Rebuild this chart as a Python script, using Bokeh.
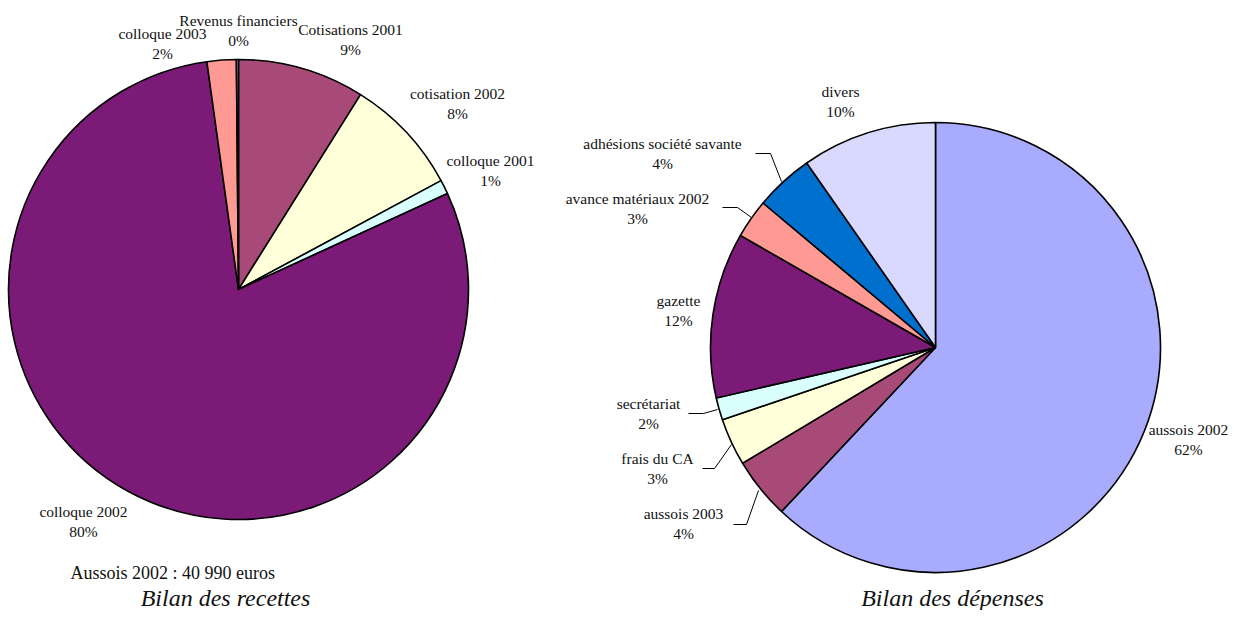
import math
from bokeh.plotting import figure
from bokeh.models import Range1d, ColumnDataSource
from bokeh.core.properties import value
from bokeh.embed import file_html
from bokeh.resources import INLINE

# ---------------- data ----------------
recettes_labels = ["Cotisations 2001", "cotisation 2002", "colloque 2001",
                   "colloque 2002", "colloque 2003", "Revenus financiers"]
recettes_values = [3650, 3380, 410, 32650, 840, 60]
recettes_colors = ["#A84A78", "#FFFFD9", "#D9FFFF", "#7B1B77", "#FF9994", "#A9ABFF"]

depenses_labels = ["aussois 2002", "aussois 2003", "frais du CA", "secrétariat",
                   "gazette", "avance matériaux 2002", "adhésions société savante", "divers"]
depenses_values = [62.0, 4.4, 3.4, 1.6, 11.9, 2.8, 4.2, 9.7]
depenses_colors = ["#A9ABFF", "#A84A78", "#FFFFD9", "#D9FFFF", "#7B1B77", "#FF9994",
                   "#0070CF", "#D9D9FF"]

total_note = "Aussois 2002 : 40 990 euros"
title_left = "Bilan des recettes"
title_right = "Bilan des dépenses"

# ---------------- layout (picture pixel coordinates) ----------------
W, H = 1230, 610
def X(v):
    return v
def Y(v):
    return H - v

left_center = (238, 289)
left_radius = 230
right_center = (935, 347)
right_radius = 225

recettes_label_pos = [(350, 29), (457, 93), (490, 160), (83, 511), (162, 33), (238, 20)]
depenses_label_pos = [(1188, 429), (683, 513), (657, 458), (648, 403),
                      (678, 300), (637, 198), (662, 143), (840, 91)]
leaders = [
    ([733, 746, 758], [524, 524, 490]),
    ([702, 714, 731], [468, 468, 444]),
    ([688, 703, 717], [413, 413, 409]),
    ([722, 737, 751], [207, 207, 217]),
    ([755, 770, 781], [153, 153, 181]),
]

FONT = value("Liberation Serif")

p = figure(width=W, height=H, output_backend="svg", toolbar_location=None,
           x_range=Range1d(0, W), y_range=Range1d(0, H), min_border=0)
p.axis.visible = False
p.grid.visible = False
p.outline_line_color = None
p.background_fill_color = "white"
p.border_fill_color = "white"


def draw_pie(vals, labels, colors, center, radius, label_pos):
    tot = float(sum(vals))
    cum = 0.0
    starts, ends, pcts = [], [], []
    for v in vals:
        a0 = cum / tot
        cum += v
        a1 = cum / tot
        starts.append(math.pi / 2 - a1 * 2 * math.pi)
        ends.append(math.pi / 2 - a0 * 2 * math.pi)
        pcts.append("%d%%" % round(100 * v / tot))
    src = ColumnDataSource(dict(start=starts, end=ends, color=colors))
    p.wedge(x=X(center[0]), y=Y(center[1]), radius=radius, start_angle="start",
            end_angle="end", fill_color="color", line_color="black",
            line_width=1.6, source=src)
    lx = [X(q[0]) for q in label_pos]
    ly = [Y(q[1]) for q in label_pos]
    ly2 = [Y(q[1] + 20) for q in label_pos]
    p.text(x=lx, y=ly, text=labels, text_font=FONT, text_font_size="15.5px",
           text_align="center", text_baseline="middle", text_color="#111111")
    p.text(x=lx, y=ly2, text=pcts, text_font=FONT, text_font_size="15.5px",
           text_align="center", text_baseline="middle", text_color="#111111")


draw_pie(recettes_values, recettes_labels, recettes_colors, left_center, left_radius,
         recettes_label_pos)
draw_pie(depenses_values, depenses_labels, depenses_colors, right_center, right_radius,
         depenses_label_pos)

p.multi_line(xs=[[X(v) for v in l[0]] for l in leaders],
             ys=[[Y(v) for v in l[1]] for l in leaders],
             line_color="black", line_width=1)

p.text(x=[X(70)], y=[Y(572)], text=[total_note], text_font=FONT, text_font_size="18px",
       text_align="left", text_baseline="middle", text_color="#111111")
p.text(x=[X(225), X(952)], y=[Y(597), Y(597)], text=[title_left, title_right],
       text_font=FONT, text_font_size="24px", text_font_style="italic",
       text_align="center", text_baseline="middle", text_color="#111111")

open("out.html", "w").write(file_html(p, INLINE))
